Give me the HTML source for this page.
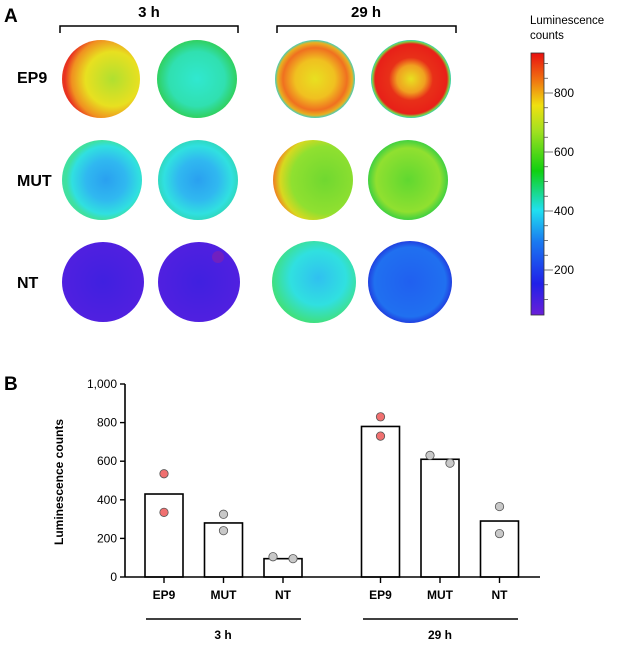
<!DOCTYPE html>
<html><head><meta charset="utf-8"><style>
body{margin:0;background:#fff;}
svg{display:block;font-family:"Liberation Sans",Arial,sans-serif;}
</style></head><body>
<svg width="621" height="647" viewBox="0 0 621 647">
<defs>
<linearGradient id="jet" x1="0" y1="1" x2="0" y2="0">
<stop offset="0" stop-color="#6a1fd8"/><stop offset="0.12" stop-color="#2020e8"/><stop offset="0.28" stop-color="#1a7af0"/><stop offset="0.4" stop-color="#20e0f0"/><stop offset="0.55" stop-color="#10d010"/><stop offset="0.7" stop-color="#a0e020"/><stop offset="0.8" stop-color="#f0e010"/><stop offset="0.9" stop-color="#f07010"/><stop offset="1" stop-color="#e81010"/>
</linearGradient>
<radialGradient id="g1" cx="0.65" cy="0.5" r="0.7"><stop offset="0" stop-color="#b0e030"/><stop offset="0.5" stop-color="#e8e020"/><stop offset="0.75" stop-color="#f09020"/><stop offset="0.88" stop-color="#e83020"/><stop offset="0.96" stop-color="#e84020"/><stop offset="1" stop-color="#30c0e0"/></radialGradient>
<radialGradient id="g2" cx="0.5" cy="0.5" r="0.5"><stop offset="0" stop-color="#30e8d0"/><stop offset="0.7" stop-color="#30e0b0"/><stop offset="1" stop-color="#30d060"/></radialGradient>
<radialGradient id="g3" cx="0.5" cy="0.5" r="0.5"><stop offset="0" stop-color="#e8e020"/><stop offset="0.5" stop-color="#f0c020"/><stop offset="0.8" stop-color="#f07020"/><stop offset="0.93" stop-color="#e8b020"/><stop offset="1" stop-color="#40d0c0"/></radialGradient>
<radialGradient id="g4" cx="0.5" cy="0.5" r="0.5"><stop offset="0" stop-color="#e8e020"/><stop offset="0.35" stop-color="#f0a020"/><stop offset="0.55" stop-color="#e83018"/><stop offset="0.9" stop-color="#e82018"/><stop offset="0.96" stop-color="#80d040"/><stop offset="1" stop-color="#30d0c0"/></radialGradient>
<radialGradient id="g5" cx="0.55" cy="0.5" r="0.5"><stop offset="0" stop-color="#2aa0f0"/><stop offset="0.5" stop-color="#30b8f0"/><stop offset="0.85" stop-color="#30e0e0"/><stop offset="1" stop-color="#40e0a0"/></radialGradient>
<radialGradient id="g6" cx="0.5" cy="0.5" r="0.5"><stop offset="0" stop-color="#2aa0f0"/><stop offset="0.5" stop-color="#30b8f0"/><stop offset="0.85" stop-color="#30e0e0"/><stop offset="1" stop-color="#30d8c0"/></radialGradient>
<radialGradient id="g7" cx="0.65" cy="0.5" r="0.7"><stop offset="0" stop-color="#70d830"/><stop offset="0.6" stop-color="#90e030"/><stop offset="0.8" stop-color="#d8d820"/><stop offset="0.92" stop-color="#f08020"/><stop offset="1" stop-color="#30c0e0"/></radialGradient>
<radialGradient id="g8" cx="0.5" cy="0.5" r="0.5"><stop offset="0" stop-color="#60d830"/><stop offset="0.8" stop-color="#90e030"/><stop offset="1" stop-color="#40d040"/></radialGradient>
<radialGradient id="g9" cx="0.5" cy="0.5" r="0.5"><stop offset="0" stop-color="#4020e0"/><stop offset="1" stop-color="#5020e0"/></radialGradient>
<radialGradient id="g11" cx="0.55" cy="0.45" r="0.55"><stop offset="0" stop-color="#30c0f0"/><stop offset="0.6" stop-color="#30e0e0"/><stop offset="1" stop-color="#40e080"/></radialGradient>
<radialGradient id="g12" cx="0.5" cy="0.5" r="0.5"><stop offset="0" stop-color="#2060f0"/><stop offset="0.85" stop-color="#2070f0"/><stop offset="1" stop-color="#2040e0"/></radialGradient>
</defs>

<!-- Panel A -->
<text x="4" y="22" font-size="19" font-weight="bold">A</text>
<g fill="none" stroke="#000" stroke-width="1.5"><path d="M60,33 V26 H238 V33"/></g>
<text x="149" y="17" font-size="15" font-weight="bold" text-anchor="middle">3 h</text>
<g fill="none" stroke="#000" stroke-width="1.5"><path d="M277,33 V26 H456 V33"/></g>
<text x="366" y="17" font-size="15" font-weight="bold" text-anchor="middle">29 h</text>
<text x="17" y="83" font-size="16" font-weight="bold">EP9</text>
<text x="17" y="186" font-size="16" font-weight="bold">MUT</text>
<text x="17" y="288" font-size="16" font-weight="bold">NT</text>

<ellipse cx="101" cy="79" rx="39" ry="39" fill="url(#g1)"/>
<ellipse cx="197" cy="79" rx="40" ry="39" fill="url(#g2)"/>
<ellipse cx="315" cy="79" rx="40" ry="39" fill="url(#g3)"/>
<ellipse cx="411" cy="79" rx="40" ry="39" fill="url(#g4)"/>
<ellipse cx="102" cy="180" rx="40" ry="40" fill="url(#g5)"/>
<ellipse cx="198" cy="180" rx="40" ry="40" fill="url(#g6)"/>
<ellipse cx="313" cy="180" rx="40" ry="40" fill="url(#g7)"/>
<ellipse cx="408" cy="180" rx="40" ry="40" fill="url(#g8)"/>
<ellipse cx="103" cy="282" rx="41" ry="40" fill="url(#g9)"/>
<ellipse cx="199" cy="282" rx="41" ry="40" fill="url(#g9)"/>
<circle cx="218" cy="257" r="6" fill="#7020c0"/>
<ellipse cx="314" cy="282" rx="42" ry="41" fill="url(#g11)"/>
<ellipse cx="410" cy="282" rx="42" ry="41" fill="url(#g12)"/>

<text x="530" y="24" font-size="11.5">Luminescence</text>
<text x="530" y="39" font-size="11.5">counts</text>
<rect x="531" y="53" width="13" height="262" fill="url(#jet)" stroke="#333" stroke-width="0.8"/>
<g id="cbticks"></g>

<!-- Panel B -->
<text x="4" y="390" font-size="19" font-weight="bold">B</text>
<text transform="translate(63,482) rotate(-90)" font-size="12" font-weight="bold" text-anchor="middle">Luminescence counts</text>
<g id="chart"></g>
<line x1="146" y1="619" x2="301" y2="619" stroke="#000" stroke-width="1.5"/>
<line x1="363" y1="619" x2="518" y2="619" stroke="#000" stroke-width="1.5"/>
<text x="223" y="639" font-size="12" font-weight="bold" text-anchor="middle">3 h</text>
<text x="440" y="639" font-size="12" font-weight="bold" text-anchor="middle">29 h</text>
</svg>
<script>
const categories = ["EP9","MUT","NT","EP9","MUT","NT"];
const barValues = [430, 280, 95, 780, 610, 290];
const pointsA = [535, 325, 105, 830, 630, 365];
const pointsB = [335, 240, 95, 730, 590, 225];
const yTicks = [0, 200, 400, 600, 800, 1000];
const yTickLabels = ["0","200","400","600","800","1,000"];
const cbTicks = [200, 400, 600, 800];

const NS = "http://www.w3.org/2000/svg";
const y0 = 577, y1 = 384;
const yScale = v => y0 - (v / 1000) * (y0 - y1);
const xCenter = i => 164 + i * 59.5 + (i >= 3 ? 38 : 0);
const cbScale = v => 270 - (v - 200) * (177 / 600);
function mk(tag, attrs, parent) {
  const e = document.createElementNS(NS, tag);
  for (const k in attrs) e.setAttribute(k, attrs[k]);
  parent.appendChild(e);
  return e;
}
const chart = document.getElementById('chart');
const cb = document.getElementById('cbticks');

for (let v = 100; v <= 900; v += 50) {
  const major = cbTicks.includes(v);
  const t = mk('line', {x1: 544, x2: major ? 553 : 548, y1: cbScale(v), y2: cbScale(v), stroke: '#555', 'stroke-width': 0.8}, cb);
  
  
}
cbTicks.forEach(v => {
  const t = mk('text', {x: 554, y: cbScale(v) + 4, 'font-size': 12}, cb);
  t.textContent = v;
  
  
});

barValues.forEach((v, i) => {
  const cx = xCenter(i);
  const r = mk('rect', {x: cx - 19, y: yScale(v), width: 38, height: yScale(0) - yScale(v), fill: '#fff', stroke: '#000', 'stroke-width': 1.6}, chart);
  
  
});
const isEP9 = i => categories[i] === 'EP9';
[pointsA, pointsB].forEach((arr, k) => {
  arr.forEach((v, i) => {
    let dx = 0;
    if (Math.abs(pointsA[i] - pointsB[i]) < 60) dx = k === 0 ? -10 : 10;
    const c = mk('circle', {cx: xCenter(i) + dx, cy: yScale(v), r: 4.2, fill: isEP9(i) ? '#f07070' : '#c8c8c8', stroke: '#555', 'stroke-width': 0.8}, chart);
    
    
  });
});
const ya = mk('line', {x1: 125, x2: 125, y1: y1, y2: y0, stroke: '#000', 'stroke-width': 1.6}, chart);


const xa = mk('line', {x1: 125, x2: 540, y1: y0, y2: y0, stroke: '#000', 'stroke-width': 1.6}, chart);


yTicks.forEach((v, i) => {
  const t = mk('line', {x1: 120, x2: 125, y1: yScale(v), y2: yScale(v), stroke: '#000', 'stroke-width': 1.4}, chart);
  
  
  const l = mk('text', {x: 117, y: yScale(v) + 4, 'font-size': 12, 'text-anchor': 'end'}, chart);
  l.textContent = yTickLabels[i];
  
  
});
categories.forEach((c, i) => {
  const t = mk('line', {x1: xCenter(i), x2: xCenter(i), y1: y0, y2: y0 + 6, stroke: '#000', 'stroke-width': 1.4}, chart);
  
  
  const l = mk('text', {x: xCenter(i), y: 599, 'font-size': 12, 'font-weight': 'bold', 'text-anchor': 'middle'}, chart);
  l.textContent = c;
  
  
});
</script>
</body></html>
